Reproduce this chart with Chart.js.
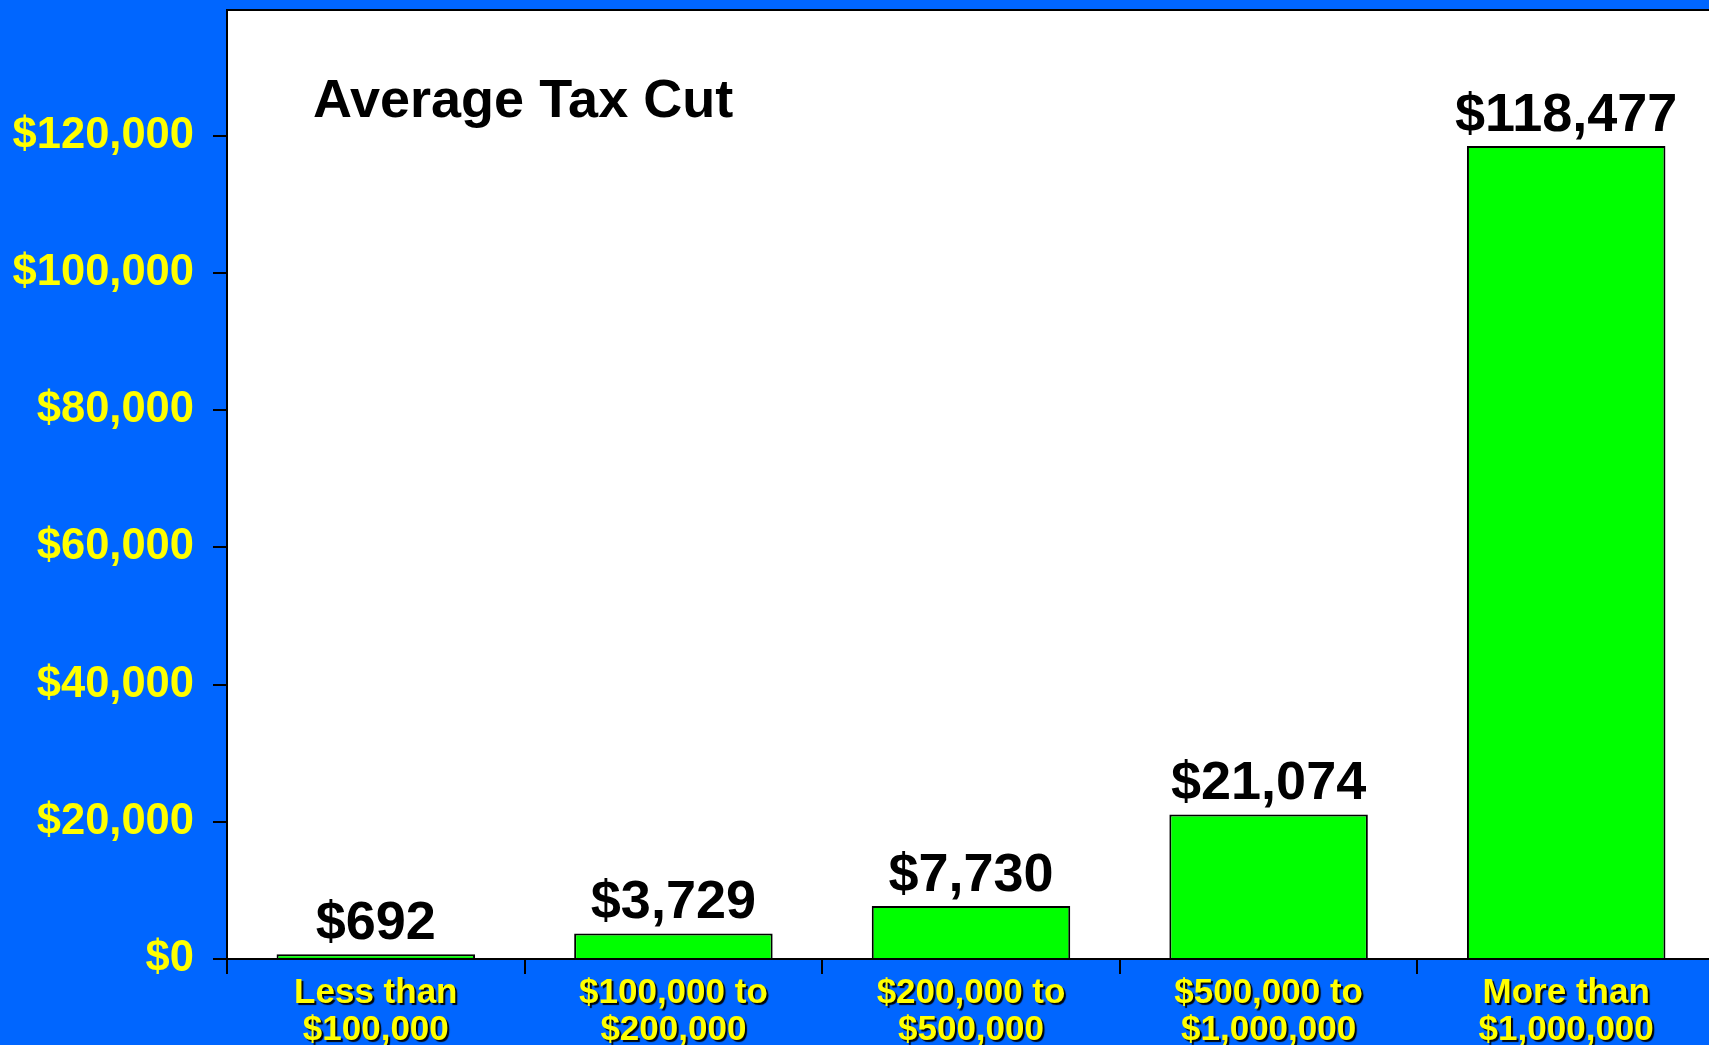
<!DOCTYPE html>
<html><head><meta charset="utf-8">
<script src="https://cdn.jsdelivr.net/npm/chart.js@4"></script>
<style>html,body{margin:0;padding:0;background:#0066FF;overflow:hidden}canvas{display:block}</style>
</head><body>
<canvas id="c" width="1715" height="1045"></canvas>
<script>
const categories = [["Less than","$100,000"],["$100,000 to","$200,000"],["$200,000 to","$500,000"],["$500,000 to","$1,000,000"],["More than","$1,000,000"]];
const averageTaxCut = [692, 3729, 7730, 21074, 118477];
const yTickValues = [0, 20000, 40000, 60000, 80000, 100000, 120000];
const chartTitle = "Average Tax Cut";
const FONT = "Arial, 'Liberation Sans', sans-serif";
const money = v => '$' + Number(v).toLocaleString('en-US');

const plotBg = {
  id: 'plotBg',
  beforeDraw(chart) {
    const {ctx, chartArea: a} = chart;
    ctx.save();
    ctx.fillStyle = '#0066FF';
    ctx.fillRect(0, 0, chart.width, chart.height);
    ctx.fillStyle = '#ffffff';
    ctx.fillRect(a.left, a.top, a.right - a.left, a.bottom - a.top);
    ctx.strokeStyle = '#000';
    ctx.lineWidth = 2;
    ctx.beginPath();
    ctx.moveTo(a.left, a.top);
    ctx.lineTo(a.right, a.top);
    ctx.lineTo(a.right, a.bottom);
    ctx.stroke();
    ctx.restore();
    const s = chart.scales.x;
    if (s && !s._shadowPatched) {
      const orig = s.drawLabels;
      s.drawLabels = function(area) {
        const c = this.ctx;
        c.save();
        c.shadowColor = 'rgba(0,0,0,0.95)';
        c.shadowOffsetX = 2;
        c.shadowOffsetY = 2;
        c.shadowBlur = 1;
        orig.call(this, area);
        c.restore();
      };
      s._shadowPatched = true;
    }
  }
};

const valueLabels = {
  id: 'valueLabels',
  afterDatasetsDraw(chart) {
    const {ctx} = chart;
    const meta = chart.getDatasetMeta(0);
    ctx.save();
    ctx.fillStyle = '#000';
    ctx.font = 'bold 54px ' + FONT;
    ctx.textAlign = 'center';
    ctx.textBaseline = 'alphabetic';
    meta.data.forEach((bar, i) => {
      ctx.fillText(money(chart.data.datasets[0].data[i]), bar.x, bar.y - 15);
    });
    ctx.restore();
  },
  afterDraw(chart) {
    const {ctx, chartArea: a} = chart;
    ctx.save();
    ctx.fillStyle = '#000';
    ctx.font = 'bold 54px ' + FONT;
    ctx.textAlign = 'left';
    ctx.textBaseline = 'middle';
    ctx.fillText(chartTitle, a.left + 86, a.top + 92);
    ctx.restore();
  }
};

new Chart(document.getElementById('c'), {
  type: 'bar',
  data: {
    labels: categories,
    datasets: [{
      data: averageTaxCut,
      backgroundColor: '#00FF00',
      borderColor: '#000000',
      borderWidth: 2,
      borderSkipped: 'bottom',
      barPercentage: 0.667,
      categoryPercentage: 1.0
    }]
  },
  options: {
    responsive: false,
    animation: false,
    events: [],
    layout: {padding: {top: 10, right: 0, left: 0, bottom: 0}},
    plugins: {legend: {display: false}, tooltip: {enabled: false}, title: {display: false}},
    scales: {
      x: {
        grid: {display: true, drawOnChartArea: false, drawTicks: true, tickLength: 15, color: '#000', lineWidth: 2, offset: true},
        border: {display: true, color: '#000', width: 2},
        ticks: {color: '#FFFF00', font: {family: FONT, size: 35, weight: 'bold', lineHeight: 1.06}, padding: 1, maxRotation: 0, autoSkip: false},
        afterFit(scale) { scale.height = 86; scale.paddingLeft = 0; scale.paddingRight = 0; }
      },
      y: {
        min: 0,
        max: 138300,
        afterBuildTicks(scale) { scale.ticks = yTickValues.map(v => ({value: v})); },
        grid: {display: true, drawOnChartArea: false, drawTicks: true, tickLength: 14, color: '#000', lineWidth: 2},
        border: {display: true, color: '#000', width: 2},
        ticks: {color: '#FFFF00', font: {family: FONT, size: 43.5, weight: 'bold'}, padding: 19, callback: v => money(v)},
        afterFit(scale) { scale.width = 227; scale.paddingTop = 0; scale.paddingBottom = 0; }
      }
    }
  },
  plugins: [plotBg, valueLabels]
});
</script>
</body></html>
